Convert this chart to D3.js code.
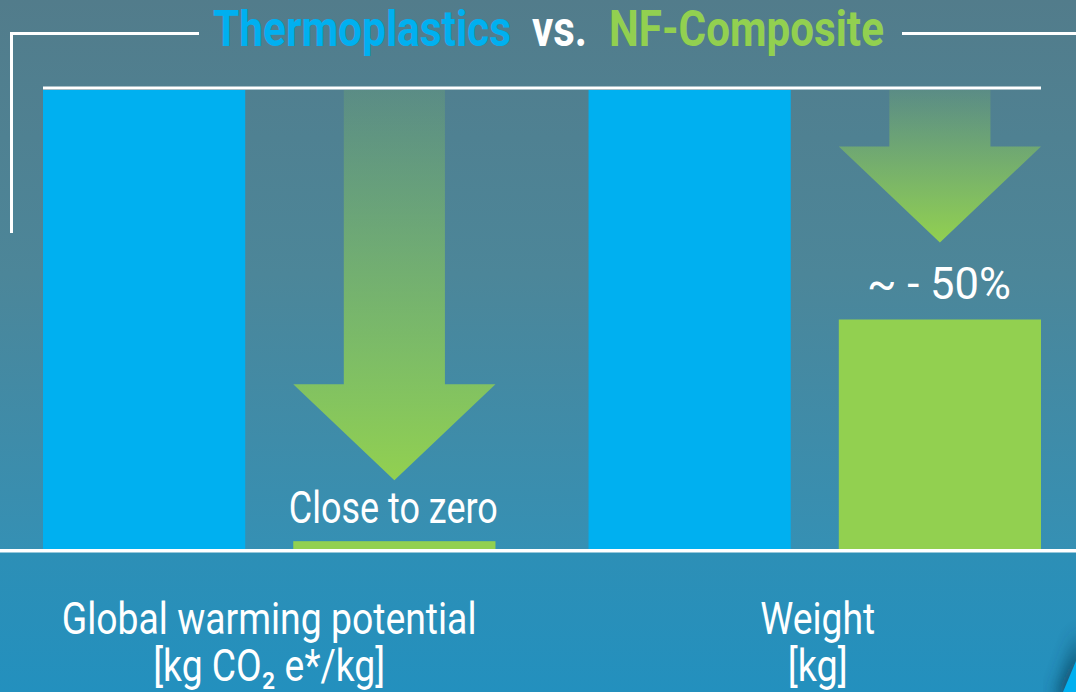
<!DOCTYPE html>
<html><head><meta charset="utf-8">
<script src="https://cdn.jsdelivr.net/npm/d3@7"></script>
<style>html,body{margin:0;padding:0;background:#2a8fb8;overflow:hidden}svg{display:block}</style>
</head><body><svg id="c" width="1076" height="692"></svg>
<script>
// ---------- data ----------
const categories = ["Global warming potential", "Weight"];
const units = ["[kg CO₂ e*/kg]", "[kg]"];
const series = ["Thermoplastics", "NF-Composite"];
const thermoplastics = [100, 100];
const nfComposite = [1.7, 50];
const annotations = ["Close to zero", "~ - 50%"];
const titleParts = ["Thermoplastics", "vs.", "NF-Composite"];

// ---------- layout ----------
const W = 1076, H = 692;
const blue = "#00b0f0", green = "#92d050";
const font = "Roboto, 'Open Sans', sans-serif";
const svg = d3.select("#c");
const defs = svg.append("defs");

// text fitted to a width by horizontal scaling (anchor: "start" | "middle")
function fitText(parent, str, x, yb, width, size, weight, fill, anchor) {
  const t = parent.append("text").attr("x", 0).attr("y", 0)
    .attr("font-family", font).attr("font-size", size).attr("font-weight", weight)
    .attr("fill", fill).text(str);
  const nat = t.node().getComputedTextLength();
  const sx = width / nat;
  const left = anchor === "middle" ? x - width / 2 : x;
  t.attr("transform", `translate(${left},${yb}) scale(${sx},1)`);
  return t;
}

const y = d3.scaleLinear().domain([0, 100]).range([549, 90]);
const x0 = d3.scaleBand().domain(categories).range([43, 1041]).paddingInner(0.1706).paddingOuter(0);
const x1 = d3.scaleBand().domain(series).range([0, x0.bandwidth()]).paddingInner(0.192);
const bw = x1.bandwidth();

// backgrounds
const g1 = defs.append("linearGradient").attr("id", "bgTop").attr("x1", 0).attr("y1", 0).attr("x2", 0).attr("y2", 1);
g1.append("stop").attr("offset", 0).attr("stop-color", "#527c8b");
g1.append("stop").attr("offset", 0.5).attr("stop-color", "#4c8699");
g1.append("stop").attr("offset", 1).attr("stop-color", "#3590b4");
const g2 = defs.append("linearGradient").attr("id", "bgBot").attr("x1", 0).attr("y1", 0).attr("x2", 0).attr("y2", 1);
g2.append("stop").attr("offset", 0).attr("stop-color", "#2d8fb6");
g2.append("stop").attr("offset", 1).attr("stop-color", "#2390be");
svg.append("rect").attr("x", 0).attr("y", 0).attr("width", W).attr("height", y(0)).attr("fill", "url(#bgTop)");
svg.append("rect").attr("x", 0).attr("y", y(0)).attr("width", W).attr("height", H - y(0)).attr("fill", "url(#bgBot)");

// bracket + title
svg.append("path").attr("d", "M11.5,233 V33.5 H199 M902,33.5 H1076")
  .attr("fill", "none").attr("stroke", "#fff").attr("stroke-width", 3);
const titleX = [213, 532, 609], titleW = [298, 55, 275], titleC = [blue, "#fff", green];
const tg = svg.append("g");
titleParts.forEach((s, i) => fitText(tg, s, titleX[i], 46, titleW[i], 50, 700, titleC[i], "start"));

// top line
svg.append("rect").attr("x", 43).attr("y", 86.5).attr("width", 998).attr("height", 3).attr("fill", "#fff");

// bars
const rows = categories.map((c, i) => ({ cat: c, vals: [thermoplastics[i], nfComposite[i]] }));
const grp = svg.append("g").selectAll("g").data(rows).join("g")
  .attr("transform", d => `translate(${x0(d.cat)},0)`);
grp.selectAll("rect").data(d => d.vals.map((v, j) => ({ s: series[j], v }))).join("rect")
  .attr("x", d => x1(d.s)).attr("width", bw)
  .attr("y", d => y(d.v)).attr("height", d => y(0) - y(d.v))
  .attr("fill", d => d.s === series[0] ? blue : green);

// arrows + annotation labels
const ag = defs.append("linearGradient").attr("id", "arrowG").attr("x1", 0).attr("y1", 0).attr("x2", 0).attr("y2", 1);
ag.append("stop").attr("offset", 0).attr("stop-color", green).attr("stop-opacity", 0.16);
ag.append("stop").attr("offset", 1).attr("stop-color", green).attr("stop-opacity", 1);
const labelGap = [18, 21];
const tipGap = [43, 56];
const annW = [209, 144];
categories.forEach((c, i) => {
  const cx = x0(c) + x1(series[1]) + bw / 2;
  const base = y(nfComposite[i]) - labelGap[i];
  const tip = base - tipGap[i];
  const top = y(100);
  const sw = bw / 4, hw = bw / 2, hh = 96;
  const p = d3.path();
  p.moveTo(cx - sw, top); p.lineTo(cx + sw, top); p.lineTo(cx + sw, tip - hh);
  p.lineTo(cx + hw, tip - hh); p.lineTo(cx, tip); p.lineTo(cx - hw, tip - hh);
  p.lineTo(cx - sw, tip - hh); p.closePath();
  svg.append("path").attr("d", p.toString()).attr("fill", "url(#arrowG)");
  fitText(svg, annotations[i], cx - 1, base, annW[i], 45, 400, "#fff", "middle");
});

// baseline
svg.append("rect").attr("x", 0).attr("y", y(0)).attr("width", W).attr("height", 3.5).attr("fill", "#fff");

// category labels
const catW = [415, 115], unitW = [232, 60];
categories.forEach((c, i) => {
  const cx = x0(c) + x0.bandwidth() / 2 + (i === 1 ? 3 : 0);
  fitText(svg, c, cx, 634, catW[i], 44, 400, "#fff", "middle");
  fitText(svg, units[i], cx, 681, unitW[i], 44, 400, "#fff", "middle");
});

// bottom-right corner
const f = defs.append("filter").attr("id", "blur").attr("x", "-50%").attr("y", "-50%").attr("width", "200%").attr("height", "200%");
f.append("feGaussianBlur").attr("stdDeviation", 9);
defs.append("clipPath").attr("id", "clipB").append("rect").attr("x", 0).attr("y", y(0) + 4).attr("width", W).attr("height", H);
svg.append("g").attr("clip-path", "url(#clipB)").append("path")
  .attr("d", "M1082,630 L1056,700 L1082,700 Z").attr("fill", "#0e3a52").attr("opacity", 0.9).attr("filter", "url(#blur)");
svg.append("path").attr("d", "M1076,661 L1063,692 L1076,692 Z").attr("fill", blue);
</script>
</body></html>
